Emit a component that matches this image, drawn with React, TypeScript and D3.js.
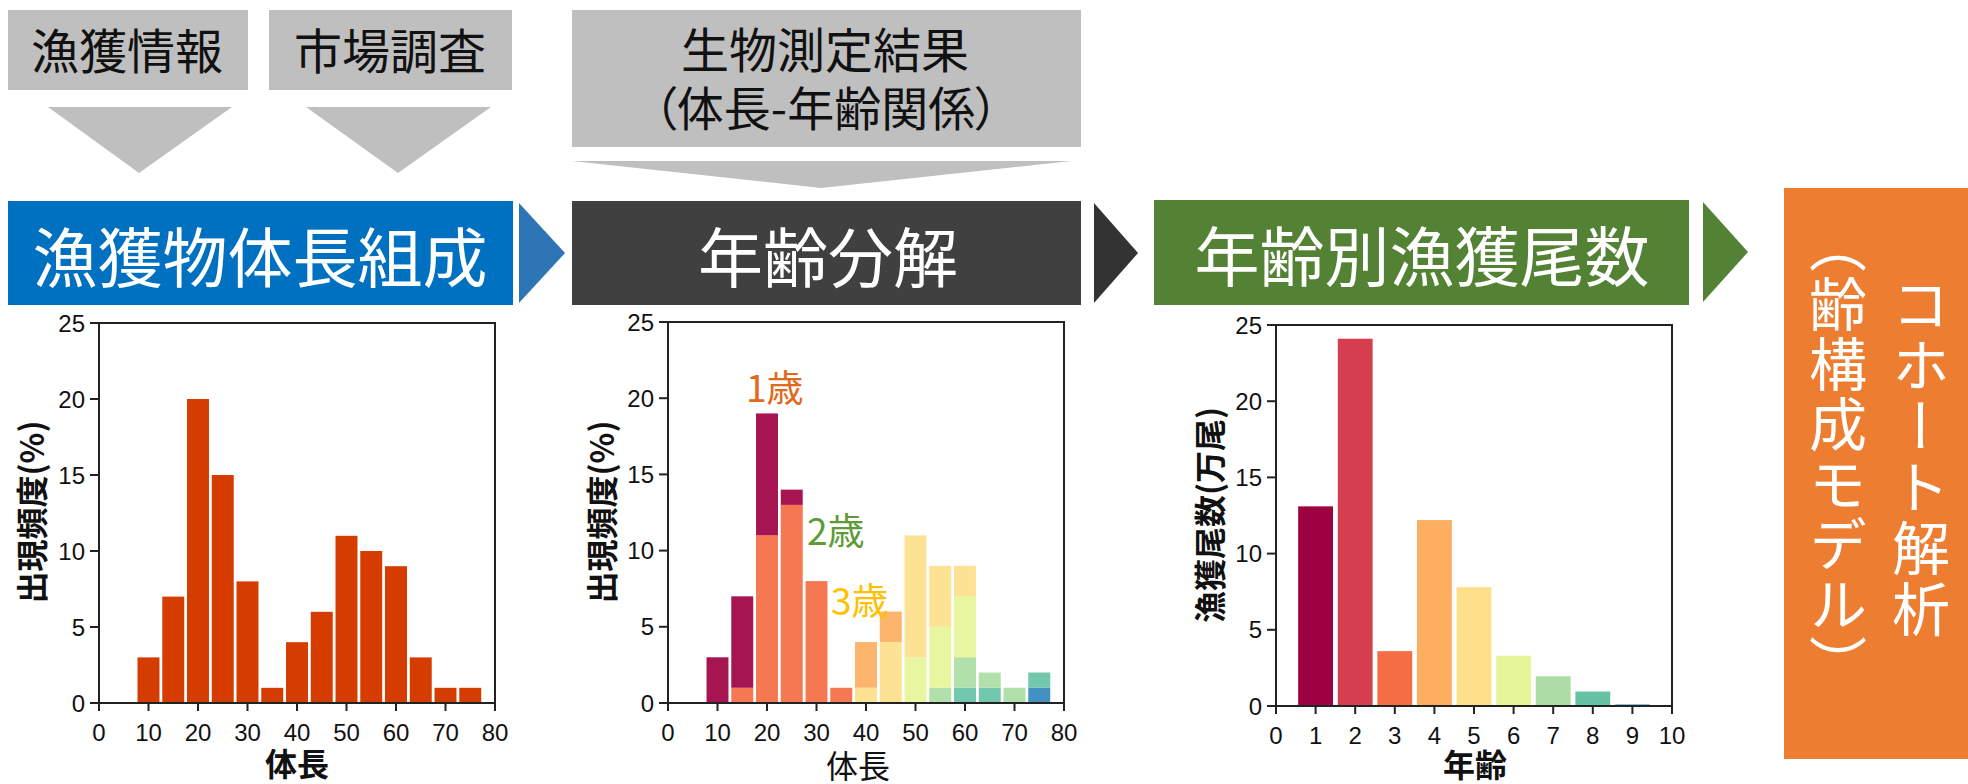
import React from 'react';
import * as d3 from 'd3';

// ---------- data ----------
const lengthBins = [10, 15, 20, 25, 30, 35, 40, 45, 50, 55, 60, 65, 70, 75];
const lengthFreq = [3, 7, 20, 15, 8, 1, 4, 6, 11, 10, 9, 3, 1, 1];

const ageClassKeys = ['c1', 'c2', 'c3', 'c4', 'c5', 'c6', 'c7', 'c8'];
const ageClass1 = [3, 6, 8, 1, 0, 0, 0, 0, 0, 0, 0, 0, 0, 0];
const ageClass2 = [0, 1, 11, 13, 8, 1, 0, 0, 0, 0, 0, 0, 0, 0];
const ageClass3 = [0, 0, 0, 0, 0, 0, 3, 2, 0, 0, 0, 0, 0, 0];
const ageClass4 = [0, 0, 0, 0, 0, 0, 1, 4, 8, 4, 2, 0, 0, 0];
const ageClass5 = [0, 0, 0, 0, 0, 0, 0, 0, 3, 4, 4, 0, 0, 0];
const ageClass6 = [0, 0, 0, 0, 0, 0, 0, 0, 0, 1, 2, 1, 1, 0];
const ageClass7 = [0, 0, 0, 0, 0, 0, 0, 0, 0, 0, 1, 1, 0, 1];
const ageClass8 = [0, 0, 0, 0, 0, 0, 0, 0, 0, 0, 0, 0, 0, 1];
const ageClassColors = ['#9e0142', '#f46d43', '#fdae61', '#fee08b', '#e6f598', '#abdda4', '#66c2a5', '#3288bd'];

const ages = [1, 2, 3, 4, 5, 6, 7, 8, 9];
const catchAtAge = [13.1, 24.1, 3.6, 12.2, 7.8, 3.3, 1.95, 0.95, 0.1];
const ageColors = ['#9e0142', '#d53e4f', '#f46d43', '#fdae61', '#fee08b', '#e6f598', '#abdda4', '#66c2a5', '#3288bd'];

const freqTicks = [0, 5, 10, 15, 20, 25];
const lengthTicks = [0, 10, 20, 30, 40, 50, 60, 70, 80];
const ageTicks = [0, 1, 2, 3, 4, 5, 6, 7, 8, 9, 10];

// ---------- style ----------
const CJK = '"Noto Sans CJK JP", "Noto Sans", sans-serif';
const NUM = '"Liberation Sans", Arial, sans-serif';
const AXIS = '#222';

type AxesProps = {
  x: d3.ScaleLinear<number, number>;
  y: d3.ScaleLinear<number, number>;
  xTicks: number[];
  yTicks: number[];
  xLabel: string;
  yLabel: string;
  xLabelBold: boolean;
  yLabelX: number;
  yLabelY: number;
  xLabelX: number;
  xLabelY: number;
};

function Axes(p: AxesProps) {
  const [x0, x1] = p.x.range();
  const [yb, yt] = p.y.range();
  return (
    <g>
      <rect x={x0} y={yt} width={x1 - x0} height={yb - yt} fill="none" stroke={AXIS} strokeWidth={2} />
      {p.yTicks.map((t) => (
        <g key={'y' + t}>
          <line x1={x0 - 9} x2={x0} y1={p.y(t)} y2={p.y(t)} stroke={AXIS} strokeWidth={2} />
          <text x={x0 - 14} y={p.y(t) + 8.5} textAnchor="end" fontFamily={NUM} fontSize={24} fill="#111">{t}</text>
        </g>
      ))}
      {p.xTicks.map((t) => (
        <g key={'x' + t}>
          <line x1={p.x(t)} x2={p.x(t)} y1={yb} y2={yb + 8} stroke={AXIS} strokeWidth={2} />
          <text x={p.x(t)} y={yb + 38} textAnchor="middle" fontFamily={NUM} fontSize={24} fill="#111">{t}</text>
        </g>
      ))}
      <text x={p.xLabelX} y={p.xLabelY} textAnchor="middle" fontFamily={CJK} fontSize={32}
        fontWeight={p.xLabelBold ? 700 : 400} fill="#111">{p.xLabel}</text>
      <text transform={`translate(${p.yLabelX},${p.yLabelY}) rotate(-90)`} textAnchor="middle"
        dominantBaseline="central" fontFamily={CJK} fontSize={32} fontWeight={700} fill="#111">{p.yLabel}</text>
    </g>
  );
}

function Chart1() {
  const x = d3.scaleLinear().domain([0, 80]).range([99, 495]);
  const y = d3.scaleLinear().domain([0, 25]).range([703, 323]);
  const pad = 1.4;
  return (
    <g>
      {lengthBins.map((b, i) => (
        <rect key={b} x={x(b - 2.5) + pad} width={x(5) - x(0) - 2 * pad} y={y(lengthFreq[i])}
          height={y(0) - y(lengthFreq[i])} fill="#d53c00" />
      ))}
      <Axes x={x} y={y} xTicks={lengthTicks} yTicks={freqTicks} xLabel="体長" yLabel="出現頻度(%)"
        xLabelBold={true} yLabelX={30} yLabelY={512} xLabelX={297} xLabelY={776} />
    </g>
  );
}

function Chart2() {
  const x = d3.scaleLinear().domain([0, 80]).range([668, 1064]);
  const y = d3.scaleLinear().domain([0, 25]).range([703, 322]);
  const classes = [ageClass1, ageClass2, ageClass3, ageClass4, ageClass5, ageClass6, ageClass7, ageClass8];
  const rows = lengthBins.map((b, i) => {
    const r: any = { bin: b };
    ageClassKeys.forEach((k, j) => { r[k] = classes[j][i]; });
    return r;
  });
  const stack = d3.stack<any>().keys([...ageClassKeys].reverse());
  const series = stack(rows);
  const pad = 1.4;
  return (
    <g>
      {series.map((s) => {
        const ci = ageClassKeys.indexOf(s.key);
        return s.map((d, i) => d[1] - d[0] > 0 ? (
          <rect key={s.key + i} x={x(d.data.bin - 2.5) + pad} width={x(5) - x(0) - 2 * pad}
            y={y(d[1])} height={y(d[0]) - y(d[1])} fill={ageClassColors[ci]} fillOpacity={0.92} />
        ) : null);
      })}
      <Axes x={x} y={y} xTicks={lengthTicks} yTicks={freqTicks} xLabel="体長" yLabel="出現頻度(%)"
        xLabelBold={false} yLabelX={600} yLabelY={512} xLabelX={858} xLabelY={778} />
      <text x={746} y={402} fontFamily={CJK} fontSize={37} fill="#e0691a">1歳</text>
      <text x={807} y={545} fontFamily={CJK} fontSize={37} fill="#5e9a38">2歳</text>
      <text x={831} y={615} fontFamily={CJK} fontSize={37} fill="#ffc000">3歳</text>
    </g>
  );
}

function Chart3() {
  const x = d3.scaleLinear().domain([0, 10]).range([1276, 1672]);
  const y = d3.scaleLinear().domain([0, 25]).range([706, 325]);
  const hw = 0.44;
  return (
    <g>
      {ages.map((a, i) => (
        <rect key={a} x={x(a - hw)} width={x(2 * hw) - x(0)} y={y(catchAtAge[i])}
          height={y(0) - y(catchAtAge[i])} fill={ageColors[i]} />
      ))}
      <Axes x={x} y={y} xTicks={ageTicks} yTicks={freqTicks} xLabel="年齢" yLabel="漁獲尾数(万尾)"
        xLabelBold={true} yLabelX={1208} yLabelY={515} xLabelX={1475} xLabelY={777} />
    </g>
  );
}

function Flow() {
  const gray = '#bfbfbf';
  const boxText = { fontFamily: CJK, fill: 'white', fontSize: 65, textAnchor: 'middle' as const };
  const topText = { fontFamily: CJK, fill: '#111', fontSize: 48, textAnchor: 'middle' as const };
  return (
    <g>
      {/* top gray boxes */}
      <rect x={8} y={10} width={240} height={80} fill={gray} />
      <text x={127} y={69} {...topText}>漁獲情報</text>
      <rect x={269} y={10} width={243} height={80} fill={gray} />
      <text x={390} y={69} {...topText}>市場調査</text>
      <polygon points="48,107 232,107 139,173" fill={gray} />
      <polygon points="306,107 491,107 398,173" fill={gray} />

      <rect x={572} y={10} width={509} height={137} fill={gray} />
      <text x={825} y={68} {...topText} fontSize={48}>生物測定結果</text>
      <text x={826} y={126} {...topText} fontSize={47} style={{ fontFeatureSettings: '"palt"' }}>（体長-年齢関係）</text>
      <polygon points="572,161 1072,161 821,188" fill={gray} />

      {/* main row */}
      <rect x={8} y={201} width={505} height={104} fill="#0070c0" />
      <text x={260} y={282} {...boxText}>漁獲物体長組成</text>
      <polygon points="519,203 519,303 565,253" fill="#2e75b6" />

      <rect x={572} y={201} width={509} height={104} fill="#404040" />
      <text x={828} y={282} {...boxText}>年齢分解</text>
      <polygon points="1094,203 1094,303 1138,253" fill="#333333" />

      <rect x={1154} y={200} width={535} height={105} fill="#548235" />
      <text x={1422} y={281} {...boxText}>年齢別漁獲尾数</text>
      <polygon points="1703,202 1703,302 1748,252" fill="#548235" />

      <rect x={1784} y={188} width={184} height={571} fill="#ed7d31" />
      <text x={1921} y={458} fill="white" fontFamily={CJK} fontSize={58} textAnchor="middle"
        style={{ writingMode: 'vertical-rl', letterSpacing: '3px' } as any}>コホート解析</text>
      <text x={1838} y={455} fill="white" fontFamily={CJK} fontSize={58} textAnchor="middle"
        style={{ writingMode: 'vertical-rl', letterSpacing: '2px' } as any}>（齢構成モデル）</text>
    </g>
  );
}

export default function App() {
  return (
    <svg width={1968} height={784} viewBox="0 0 1968 784"
      style={{ position: 'absolute', left: 0, top: 0, display: 'block', background: 'white' }}>
      <rect x={0} y={0} width={1968} height={784} fill="white" />
      <Flow />
      <Chart1 />
      <Chart2 />
      <Chart3 />
    </svg>
  );
}
